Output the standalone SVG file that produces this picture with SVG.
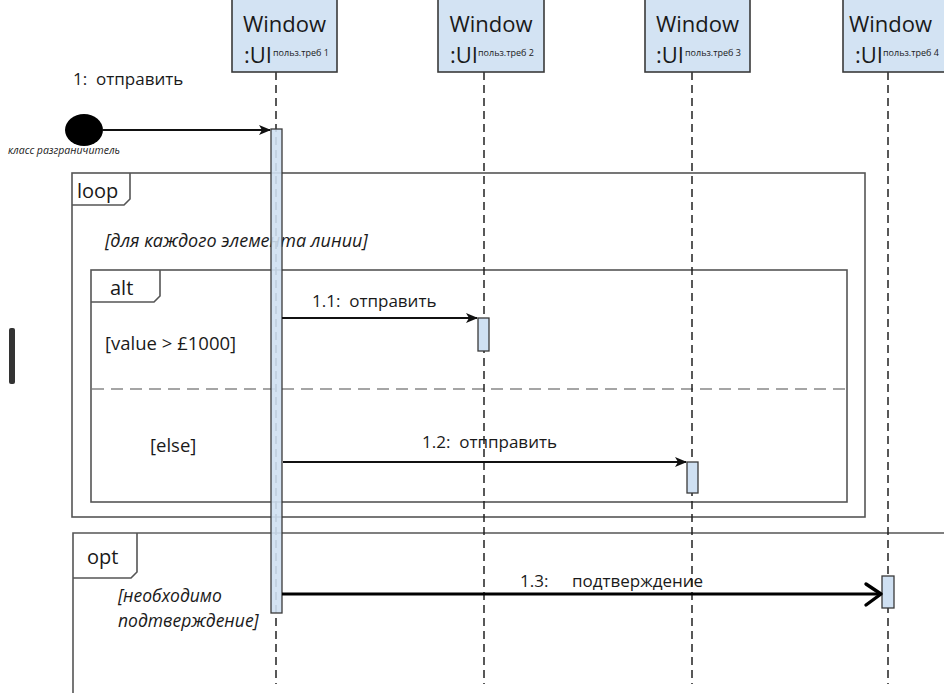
<svg xmlns="http://www.w3.org/2000/svg" width="944" height="693" viewBox="0 0 944 693">
<defs>
<style>
.head{fill:#d3e3f3;stroke:#3a3a3a;stroke-width:1.6}
.t-win{font-family:"Open Sans","Liberation Sans",sans-serif;font-size:22px;fill:#1a1a1a}
.t-ui{font-family:"Open Sans","Liberation Sans",sans-serif;font-size:22px;fill:#1a1a1a}
.t-sub{font-family:"Open Sans","Liberation Sans",sans-serif;font-size:9px;fill:#1a1a1a}
.life{stroke:#222;stroke-width:1.5;stroke-dasharray:8 5;fill:none}
.act{fill:#cfe0f2;stroke:#3a3a3a;stroke-width:1.3}
.frame{fill:none;stroke:#555;stroke-width:1.6}
.sep{stroke:#888;stroke-width:1.5;stroke-dasharray:12 7}
.msg{stroke:#111;stroke-width:2;fill:none}
.lbl{font-family:"Open Sans","Liberation Sans",sans-serif;font-size:17px;fill:#1a1a1a;white-space:pre}
.grd{font-family:"Open Sans","Liberation Sans",sans-serif;font-size:18.5px;fill:#1a1a1a}
.ital{font-family:"Open Sans","Liberation Sans",sans-serif;font-style:italic;font-size:18px;fill:#1a1a1a}
.ital2{font-family:"Open Sans","Liberation Sans",sans-serif;font-style:italic;font-size:17.5px;fill:#1a1a1a}
.op{font-family:"Open Sans","Liberation Sans",sans-serif;font-size:20px;fill:#1a1a1a}
</style>
<marker id="ah" viewBox="0 0 12 10" refX="11" refY="5" markerWidth="12" markerHeight="10" markerUnits="userSpaceOnUse" orient="auto">
<path d="M0,0 L12,5 L0,10 L3,5 Z" fill="#111"/>
</marker>
</defs>
<rect width="944" height="693" fill="#fff"/>
<rect x="9" y="328" width="6" height="56" rx="2" fill="#333"/>

<g id="frames">
<g id="loop">
<rect class="frame" x="72" y="173" width="793" height="344"/>
<path class="frame" d="M72,205 H124 L130,199 V173"/>
<text class="op" x="77" y="198">loop</text>
<text class="ital" x="105" y="247">[для каждого элемента линии]</text>
</g>
<g id="alt">
<rect class="frame" x="91" y="270" width="756" height="232"/>
<path class="frame" d="M91,302 H154 L160,296 V270"/>
<text class="op" x="110" y="295">alt</text>
<line class="sep" x1="92" y1="389" x2="846" y2="389"/>
<text class="grd" x="105" y="350">[value &gt; £1000]</text>
<text class="grd" x="150" y="452">[else]</text>
</g>
<g id="opt">
<path class="frame" d="M73,693 V533 H944"/>
<path class="frame" d="M73,578 H131 L137,572 V533"/>
<text class="op" x="87" y="564">opt</text>
<text class="ital2" x="118" y="602">[необходимо</text>
<text class="ital2" x="118" y="627">подтверждение]</text>
</g>
</g>

<g id="lifelines">
<line class="life" x1="276" y1="72" x2="276" y2="684"/>
<line class="life" x1="484" y1="72" x2="484" y2="684"/>
<line class="life" x1="692" y1="72" x2="692" y2="684"/>
<line class="life" x1="888" y1="72" x2="888" y2="684"/>
</g>

<g id="w1">
<rect class="head" x="232" y="-2" width="105" height="74"/>
<text class="t-win" x="284.5" y="32" text-anchor="middle">Window</text>
<text class="t-ui" x="244" y="63">:UI</text>
<text class="t-sub" x="273" y="56">польз.треб 1</text>
</g>
<g id="w2">
<rect class="head" x="438" y="-2" width="106" height="74"/>
<text class="t-win" x="491" y="32" text-anchor="middle">Window</text>
<text class="t-ui" x="450" y="63">:UI</text>
<text class="t-sub" x="478" y="56">польз.треб 2</text>
</g>
<g id="w3">
<rect class="head" x="645" y="-2" width="105" height="74"/>
<text class="t-win" x="697.5" y="32" text-anchor="middle">Window</text>
<text class="t-ui" x="656" y="63">:UI</text>
<text class="t-sub" x="685" y="56">польз.треб 3</text>
</g>
<g id="w4">
<rect class="head" x="843" y="-2" width="110" height="74"/>
<text class="t-win" x="849" y="32">Window</text>
<text class="t-ui" x="855" y="63">:UI</text>
<text class="t-sub" x="883" y="56">польз.треб 4</text>
</g>

<g id="boundary">
<ellipse cx="84" cy="130" rx="19" ry="16" fill="#000"/>
<text class="ital" x="8" y="154" style="font-size:10.5px">класс разграничитель</text>
</g>

<g id="activations">
<rect class="act" x="271" y="129" width="11" height="484" fill-opacity="0.9"/>
<rect class="act" x="478" y="318" width="11" height="33"/>
<rect class="act" x="687" y="462" width="11" height="31"/>
<rect class="act" x="882" y="576" width="12" height="32"/>
</g>

<g id="connectors">
<line class="msg" x1="103" y1="130" x2="270" y2="130" marker-end="url(#ah)"/>
<text class="lbl" x="73" y="85">1:  отправить</text>
<line class="msg" x1="282" y1="318" x2="477" y2="318" marker-end="url(#ah)"/>
<text class="lbl" x="312" y="307">1.1:  отправить</text>
<line class="msg" x1="283" y1="462" x2="686" y2="462" marker-end="url(#ah)"/>
<text class="lbl" x="422" y="448">1.2:  отпправить</text>
<line x1="282" y1="594" x2="880" y2="594" stroke="#000" stroke-width="3.2"/>
<path d="M866,584 L881,594 L866,605" fill="none" stroke="#000" stroke-width="3.4" stroke-linecap="round" stroke-linejoin="round"/>
<text class="lbl" x="520" y="587">1.3:</text>
<text class="lbl" x="572" y="587">подтверждение</text>
</g>
</svg>
